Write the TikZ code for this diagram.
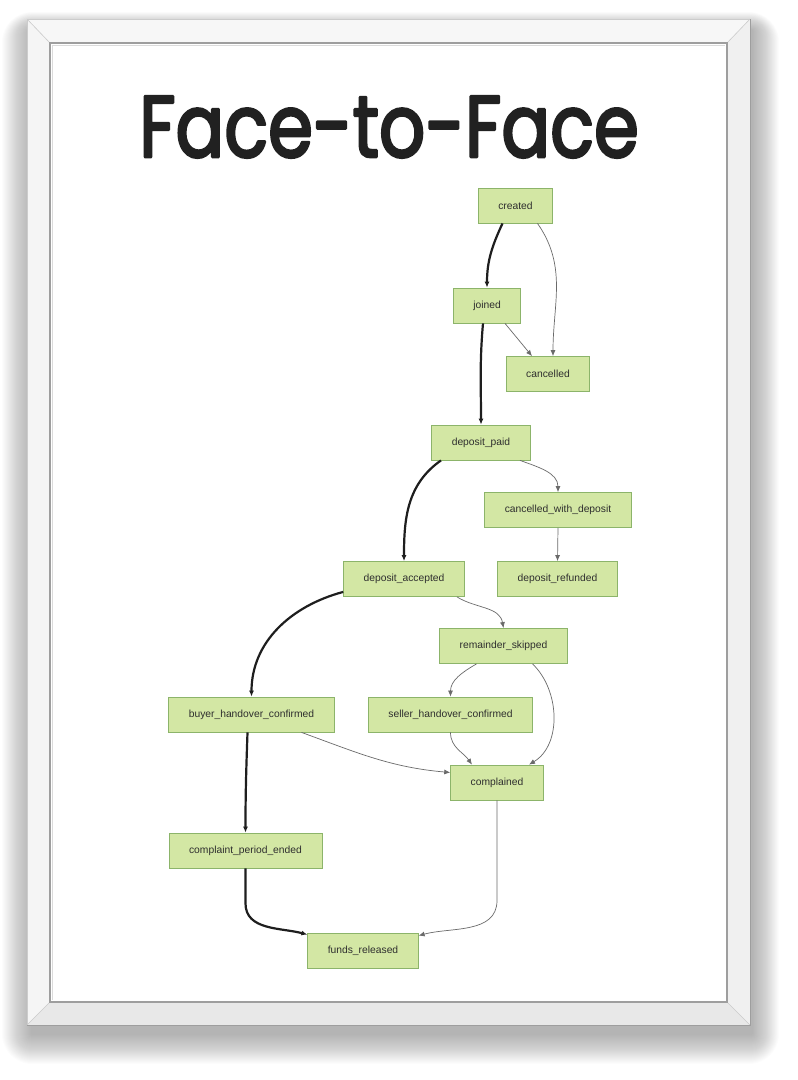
\documentclass[tikz,border=0pt]{standalone}
\usepackage{fontspec}
\setmainfont{Liberation Sans}
\newfontfamily\titlefont{Poppins}
\usetikzlibrary{arrows.meta, positioning}

\definecolor{nodefill}{HTML}{D3E7A4}
\definecolor{nodeline}{HTML}{8CB46A}
\definecolor{nodetext}{HTML}{2E2E2E}
\definecolor{mainline}{HTML}{1E1E1E}
\definecolor{sideline}{HTML}{6A6A6A}
\definecolor{titlegray}{HTML}{212121}

% heavier strokes for the title letters
\newcommand{\heavytext}[1]{\special{pdf:literal direct 2 Tr 2.8 w 1 j}#1\special{pdf:literal direct 0 Tr}}

\tikzset{
  state/.style={draw=nodeline, fill=nodefill, text=nodetext, line width=0.8pt,
    font=\fontsize{10.3}{12}\selectfont, minimum height=35pt, inner xsep=20pt},
  mainflow/.style={draw=mainline, line width=2.2pt, -{Latex[length=6pt,width=5pt]}},
  sideflow/.style={draw=sideline, line width=0.7pt, -{Latex[length=6pt,width=5pt]}},
}

\begin{document}
\begin{tikzpicture}[x=1pt, y=1pt]
\useasboundingbox (0,0) rectangle (798,-1080);

% Soft shadow behind the frame
\foreach \i in {1,...,30}
{
    \fill[black, opacity=0.011, rounded corners=\i pt] (32-\i,-30+0.6*\i) rectangle (752+0.9*\i,-1034-\i);
}

% Frame faces
\fill[white!97!black] (27,-19) -- (750,-19) -- (727,-43) -- (50,-43) -- cycle;
\fill[white!96!black] (27,-19) -- (50,-43) -- (50,-1002) -- (27,-1025) -- cycle;
\fill[white!94!black] (750,-19) -- (750,-1025) -- (727,-1002) -- (727,-43) -- cycle;
\fill[white!91!black] (27,-1025) -- (750,-1025) -- (727,-1002) -- (50,-1002) -- cycle;
\draw[white!80!black, line width=0.6pt] (27,-19) -- (50,-43) (750,-19) -- (727,-43)
    (750,-1025) -- (727,-1002) (27,-1025) -- (50,-1002);
\draw[white!80!black, line width=0.8pt] (27,-19) rectangle (750,-1025);
\draw[white!62!black, line width=1pt] (750,-19) -- (750,-1025) -- (27,-1025);

% Picture area
\fill[white] (50,-43) rectangle (727,-1002);
\draw[white!62!black, line width=1.4pt] (50,-43) rectangle (727,-1002);
\draw[white!86!black, line width=1.2pt] (52.5,-1000) -- (52.5,-45.5) -- (725,-45.5);

% Title
\node[font=\titlefont\fontsize{87}{90}\selectfont, text=titlegray, xscale=0.83] (title) at (389,-127) {\heavytext{Face-to-Face}};

% States
\node[state] (created) at (515.5,-205.5) {created};
\node[state] (joined) at (487,-305.5) {joined};
\node[state] (cancelled) at (548,-374) {cancelled};
\node[state] (paid) at (481,-442.5) {deposit\_paid};
\node[state] (withdeposit) at (558,-510) {cancelled\_with\_deposit};
\node[state] (refunded) at (557.5,-579) {deposit\_refunded};
\node[state] (accepted) at (404,-579) {deposit\_accepted};
\node[state] (skipped) at (503.5,-646) {remainder\_skipped};
\node[state] (buyer) at (251.5,-714.5) {buyer\_handover\_confirmed};
\node[state] (seller) at (450.5,-714.5) {seller\_handover\_confirmed};
\node[state] (complained) at (497,-782.5) {complained};
\node[state] (period) at (245.5,-850.5) {complaint\_period\_ended};
\node[state] (released) at (363,-950.5) {funds\_released};

% Main path (thick)
\draw[mainflow] ([xshift=-13pt]created.south) to[out=-115,in=90] (joined.north);
\draw[mainflow] ([xshift=-4pt]joined.south) to[out=-95,in=90] (paid.north);
\draw[mainflow] ([xshift=-40pt]paid.south) to[out=-145,in=90] (accepted.north);
\draw[mainflow] ([yshift=5pt]accepted.south west) to[out=195,in=90] (buyer.north);
\draw[mainflow] ([xshift=-4pt]buyer.south) to[out=-92,in=90] (period.north);
\draw[mainflow] (period.south) -- ++(0,-35) to[out=-90,in=165] ([yshift=-2pt]released.north west);

% Side paths (thin)
\draw[sideflow] ([xshift=22pt]created.south) to[out=-55,in=90] ([xshift=5pt]cancelled.north);
\draw[sideflow] ([xshift=18pt]joined.south) -- ([xshift=-16pt]cancelled.north);
\draw[sideflow] ([xshift=39pt]paid.south) to[out=-20,in=90] (withdeposit.north);
\draw[sideflow] (withdeposit.south) -- (refunded.north);
\draw[sideflow] ([xshift=53pt]accepted.south) to[out=-32,in=100] (skipped.north);
\draw[sideflow] ([xshift=-27pt]skipped.south) to[out=-150,in=90] (seller.north);
\draw[sideflow] ([xshift=29pt]skipped.south) .. controls (560,-690) and (562,-745) .. ([xshift=32pt]complained.north);
\draw[sideflow] (seller.south) to[out=-90,in=125] ([xshift=-25pt]complained.north);
\draw[sideflow] ([xshift=50pt]buyer.south) to[out=-20,in=175] ([yshift=10pt]complained.west);
\draw[sideflow] (complained.south) -- ++(0,-100) to[out=-90,in=15] ([yshift=-3pt]released.north east);

\end{tikzpicture}
\end{document}
